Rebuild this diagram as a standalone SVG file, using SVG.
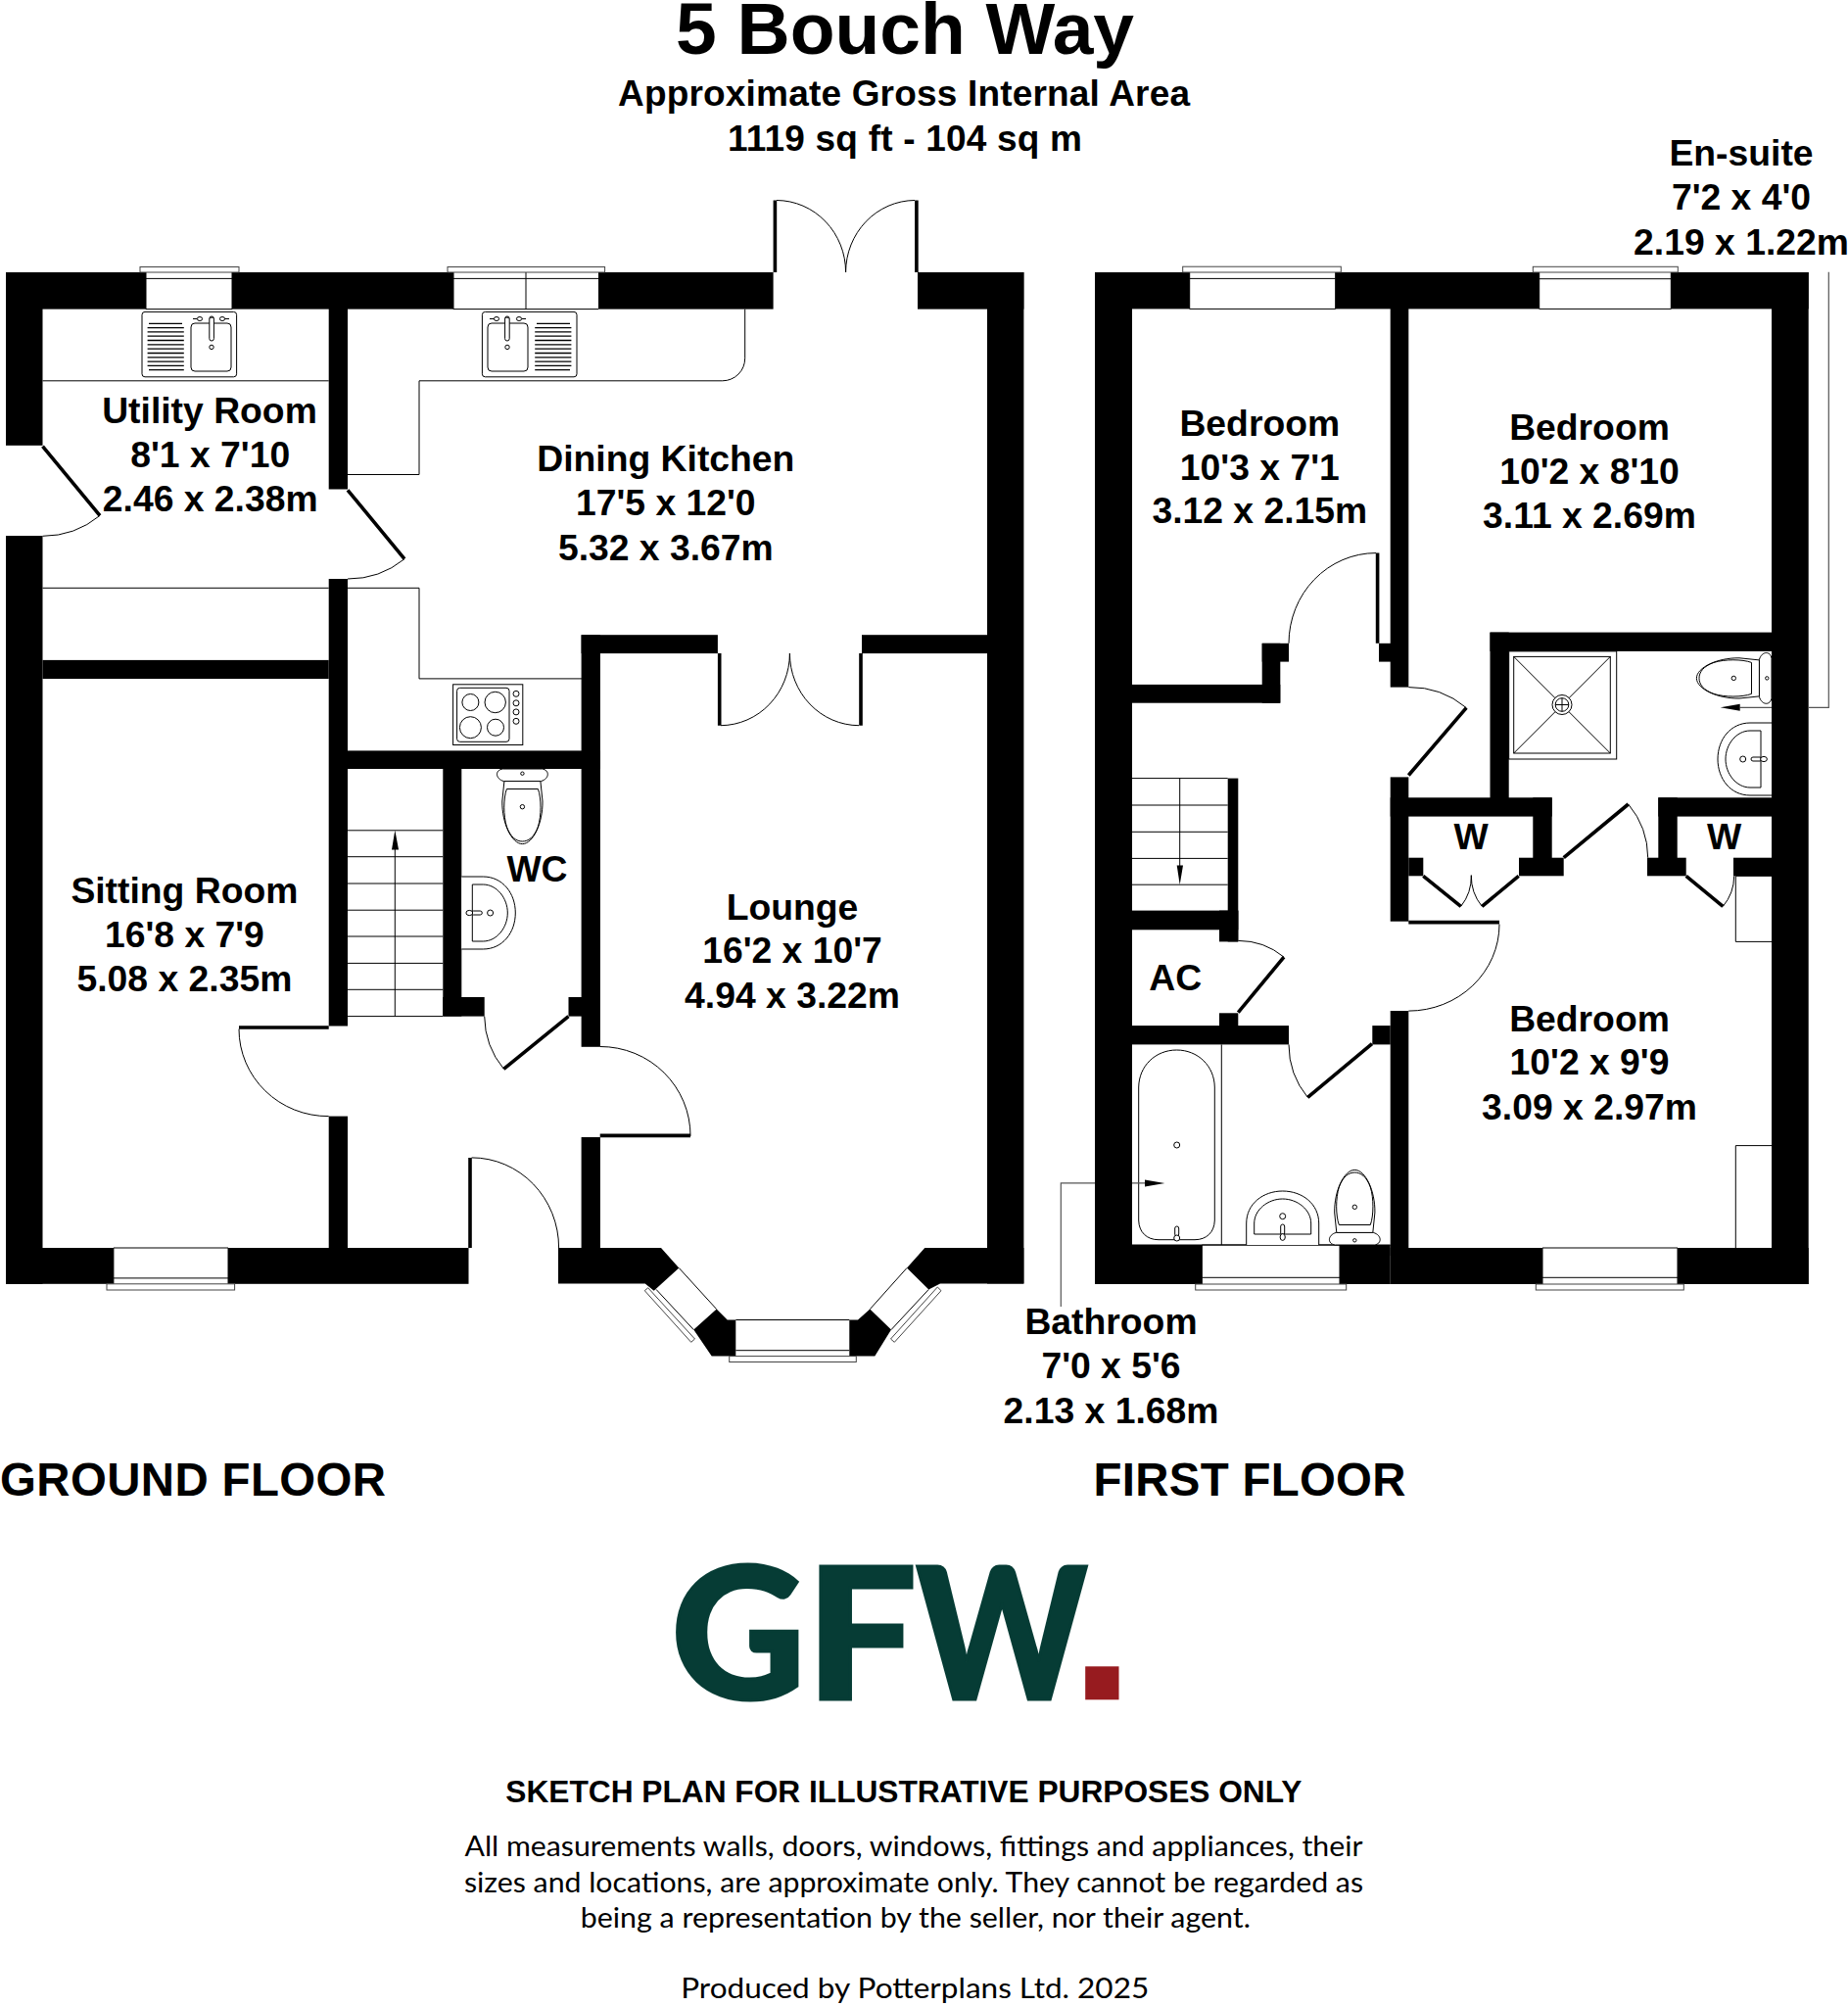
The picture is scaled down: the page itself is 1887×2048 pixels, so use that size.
<svg xmlns="http://www.w3.org/2000/svg" xmlns:xlink="http://www.w3.org/1999/xlink" width="1887" height="2048" viewBox="0 0 1887 2048">
<style>
text{font-family:"Liberation Sans",Arial,sans-serif;font-weight:700;fill:#000;text-anchor:middle}
.r{font-size:37.3px}
.w{fill:#000;stroke:none}
.t{fill:none;stroke:#000;stroke-width:1}
.f{fill:#fff;stroke:#000;stroke-width:1}
.g{fill:none;stroke:#555;stroke-width:1.2}
.wn{fill:#fff;stroke:#444;stroke-width:1}
.leaf{fill:none;stroke:#000;stroke-width:3.6}
.foot{font-family:Lato,"Open Sans",sans-serif;font-weight:400;font-size:29.5px}
.logo{font-family:Lato,"Liberation Sans",sans-serif;font-weight:900;font-size:186px;fill:#063c35;stroke:#063c35;stroke-width:3}
</style>
<defs>
<g id="sink">
<rect class="t" x="145" y="318.4" width="96.6" height="66.4" rx="3"/>
<rect class="t" x="195" y="330" width="41" height="49" rx="4"/>
<path d="M152 330.3H186M150.6 334.6H187.8M150.6 338.9H187.8M150.6 343.2H187.8M150.6 347.5H187.8M150.6 351.9H187.8M150.6 356.2H187.8M150.6 360.5H187.8M150.6 364.8H187.8M150.6 369.1H187.8M150.6 373.4H187.8M152 377.7H187.8" fill="none" stroke="#000" stroke-width="1.3"/>
<rect class="f" x="213.8" y="323" width="4.6" height="25" rx="2.3" stroke-width="1.3"/>
<path d="M214 325.5a2.4 2.4 0 0 1 4.4 0" class="t"/>
<circle class="t" cx="216" cy="354.4" r="2.2"/>
<ellipse class="f" cx="204" cy="325.5" rx="2.6" ry="2"/><path class="t" d="M197 325.5H201"/>
<ellipse class="f" cx="227" cy="325.5" rx="2.6" ry="2"/><path class="t" d="M229.6 325.5H234"/>
</g>
<g id="toilet">
<path class="f" d="M-20 0C-28 1-28 10-19 12.6H19C28 10 28 1 20 0Z"/>
<circle class="t" cy="4.7" r="1.7"/>
<path class="f" d="M-18.5 12.6L-20.6 33C-21 55-11 76.6 0 76.6C11 76.6 21 55 20.6 33L18.5 12.6Z"/>
<path class="t" d="M-16 20.5H16C19.5 30 19.5 48 16 59C12 70 6 74 0 74C-6 74-12 70-16 59C-19.5 48-19.5 30-16 20.5Z"/>
<circle class="t" cy="38.7" r="2.2"/>
</g>
<g id="basin">
<path class="f" d="M0-37H22C42-37 55-20 55 0C55 20 42 37 22 37H0"/>
<path class="t" d="M11-29H22C36-29 47-15 47 0C47 15 36 29 22 29H11Z"/>
<circle class="t" cx="29.3" r="3"/>
<rect class="t" x="10" y="-2" width="11" height="4" rx="2"/>
<ellipse class="f" cx="8" rx="3.4" ry="2.6"/>
</g>
</defs>
<rect width="1887" height="2048" fill="#fff"/>

<g id="header">
<text x="924" y="55" font-size="75">5 Bouch Way</text>
<text x="923" y="108.3" font-size="37" textLength="584">Approximate Gross Internal Area</text>
<text x="924" y="154.3" font-size="37" textLength="362">1119 sq ft - 104 sq m</text>
</g>

<g id="ground-floor">
<g id="ground-walls" class="w">
<rect x="6" y="278" width="143" height="37.6"/>
<rect x="237" y="278" width="226" height="37.6"/>
<rect x="611" y="278" width="178.6" height="37.6"/>
<rect x="937" y="278" width="108.4" height="37.6"/>
<rect x="1008" y="278" width="37.4" height="1032.5"/>
<rect x="6" y="278" width="37.5" height="176.8"/>
<rect x="6" y="547" width="37.5" height="763.8"/>
<rect x="6" y="1274" width="109.9" height="36.8"/>
<rect x="233" y="1274" width="245.5" height="36.8"/>
<rect x="335.7" y="278" width="19.3" height="221.5"/>
<rect x="335.7" y="591" width="19.3" height="456.5"/>
<rect x="335.7" y="1139.6" width="19.3" height="170"/>
<rect x="43.5" y="673.9" width="292.2" height="19.1"/>
<rect x="355" y="766.4" width="257.9" height="18.6"/>
<rect x="452.3" y="785" width="19" height="252.6"/>
<rect x="452.3" y="1018" width="42.4" height="19.6"/>
<rect x="580.5" y="1018" width="13.5" height="19.6"/>
<rect x="593.6" y="648.2" width="19.3" height="420.6"/>
<rect x="593.6" y="1161" width="19.3" height="130"/>
<rect x="593.6" y="648.2" width="139.3" height="18.9"/>
<rect x="880" y="648.2" width="128" height="18.9"/>
<polygon points="570,1274 675,1274 693.3,1294.5 667.7,1317.7 658.7,1310.5 570,1310.5"/>
<polygon points="731.7,1336.6 742.7,1347.6 751.3,1347.6 751.3,1384.6 726.7,1384.6 708.3,1357.6"/>
<polygon points="867.3,1347.6 876,1347.6 888.3,1336.6 910,1357.6 893.3,1384.6 867.3,1384.6"/>
<polygon points="926,1294.5 944.3,1274 1008,1274 1045.4,1274 1045.4,1310.5 960,1310.5 948.3,1316.4"/>
</g>
<g id="ground-windows">
<path class="t" d="M149 315.6H237M149 278V315.6M237 278V315.6M149 284.4H237M463 315.6H611M463 284.4H611M537 278V315.6M463 278V315.6"/>
<rect class="wn" x="143" y="272.5" width="101" height="5.5"/>
<rect class="wn" x="457" y="272.5" width="160.6" height="5.5"/>
<path class="t" d="M115.9 1274H233M115.9 1304.9H233M115.9 1274V1310.8M233 1274V1310.8"/>
<rect class="wn" x="109" y="1310.8" width="130.6" height="6.2"/>
<path class="t" d="M751.3 1347.5H867.3M751.3 1378.7H867.3"/>
<rect class="wn" x="744.7" y="1384.6" width="129.6" height="5.9"/>
<path class="t" d="M693.3 1294.5L731.7 1336.6M670 1316.4L708.3 1357.6M926 1294.5L888.3 1336.6M948.3 1316.4L910 1357.6"/>
<polygon class="wn" points="661.7,1314.8 658.3,1317.7 705.7,1370.3 709.5,1367"/>
<polygon class="wn" points="957.3,1314 961,1317.7 913.3,1370.3 909.5,1367"/>
</g>
<g id="ground-fittings">
<path class="t" d="M43.5 388.8H335.7M43.5 600.3H335.7"/>
<path class="t" d="M355 484.5H428V388.8H737.7C750.4 388.8 760.7 378.5 760.7 365.8V315.6"/>
<path class="t" d="M355 600.3H428V692.9H594"/>
<use href="#sink" xlink:href="#sink"/>
<use href="#sink" xlink:href="#sink" transform="translate(734,0) scale(-1,1)"/>
<rect class="t" x="462.6" y="698.8" width="71.2" height="61.7"/>
<rect class="t" x="466.6" y="702.3" width="53.4" height="55" rx="3"/>
<circle class="t" cx="480.4" cy="717" r="8.5"/><circle class="t" cx="505.7" cy="717" r="10.7"/>
<circle class="t" cx="480.4" cy="742.7" r="11"/><circle class="t" cx="506" cy="742.7" r="8.5"/>
<circle class="t" cx="527" cy="708.3" r="3"/><circle class="t" cx="527" cy="717.8" r="3"/><circle class="t" cx="527" cy="726.9" r="3"/><circle class="t" cx="527" cy="736.3" r="3"/>
<use href="#toilet" xlink:href="#toilet" transform="translate(533.4,785)"/>
<use href="#basin" xlink:href="#basin" transform="translate(471.3,932)"/>
<path class="t" d="M355 847.8H452.3M355 874.7H452.3M355 902H452.3M355 929.2H452.3M355 956H452.3M355 983.4H452.3M355 1010.3H452.3M355 1037.6H452.3M403.3 1037.6V867"/>
<polygon points="403.3,847.8 400,867.6 407,867.6"/>
</g>
<g id="ground-doors">
<path class="leaf" d="M43.5 455.6L102 526.4M355 500.3L413 570.7M791.4 204.5V278M935.9 204.5V278M734.7 667V740.7M879 667V740.7M244 1049H335.7M580.5 1037.6L514.4 1091.4M612.7 1159.4H705M480 1181.9V1274"/>
<path class="t" d="M102 526.4A92 92 0 0 1 43.5 547.3M413 570.7A91 91 0 0 1 355 591M793 204.5A71 73.5 0 0 1 863.6 278M934 204.5A71 73.5 0 0 0 863.6 278M736 740.7A71 73.7 0 0 0 806.4 667M877 740.7A71 73.7 0 0 1 806.4 667M244 1050.6A91 89 0 0 0 335.7 1139.6M514.4 1091.4A86 86 0 0 1 494.7 1037.6M612.7 1068.5A92 91 0 0 1 705 1159.8M481.6 1181.9A89 92 0 0 1 570.6 1274"/>
</g>
</g>

<g id="first-floor">
<g id="first-walls" class="w">
<rect x="1118" y="278" width="96.7" height="37.4"/>
<rect x="1363.7" y="278" width="208" height="37.4"/>
<rect x="1706.3" y="278" width="140.4" height="37.4"/>
<rect x="1809" y="278" width="37.7" height="1033"/>
<rect x="1118" y="278" width="38" height="1033"/>
<rect x="1118" y="1271" width="109.3" height="40"/>
<rect x="1368" y="1271" width="51.7" height="40"/>
<rect x="1419.7" y="1274" width="155.3" height="37"/>
<rect x="1713" y="1274" width="133.7" height="37"/>
<rect x="1419.7" y="278" width="18.6" height="423.6"/>
<rect x="1408" y="656.8" width="12" height="18.8"/>
<rect x="1288.7" y="656.8" width="27.3" height="18.8"/>
<rect x="1288.7" y="656.8" width="18.6" height="60.9"/>
<rect x="1156" y="698.9" width="151.3" height="18.8"/>
<rect x="1419.7" y="793.4" width="18.6" height="147.3"/>
<rect x="1419.7" y="1032" width="18.6" height="250"/>
<rect x="1419.7" y="814.3" width="165" height="19.3"/>
<rect x="1521.5" y="645.6" width="19.2" height="170"/>
<rect x="1521.5" y="645.6" width="287.5" height="19.3"/>
<rect x="1565.3" y="814.3" width="19.4" height="65"/>
<rect x="1551" y="875.7" width="45.7" height="18.6"/>
<rect x="1438.3" y="875.7" width="15" height="18.6"/>
<rect x="1693.3" y="814.3" width="115.7" height="19.3"/>
<rect x="1693.3" y="814.3" width="19.4" height="65"/>
<rect x="1682" y="875.7" width="39.7" height="18.6"/>
<rect x="1770" y="875.7" width="39" height="18.6"/>
<rect x="1253.7" y="794.6" width="10.6" height="166.8"/>
<rect x="1156" y="929.6" width="108.3" height="19.7"/>
<rect x="1245" y="929.6" width="19.3" height="31.8"/>
<rect x="1245" y="1034.3" width="19.3" height="14"/>
<rect x="1156" y="1047.1" width="160" height="19.3"/>
<rect x="1401.3" y="1047.1" width="18.4" height="19.3"/>
</g>
<g id="first-windows">
<path class="t" d="M1214.7 315.4H1363.7M1214.7 284.4H1363.7M1214.7 278V315.4M1363.7 278V315.4M1571.7 315.4H1706.3M1571.7 284.7H1706.3M1571.7 278V315.4M1706.3 278V315.4"/>
<rect class="wn" x="1207.7" y="272.2" width="161.6" height="5.8"/>
<rect class="wn" x="1565.3" y="272.3" width="148" height="5.7"/>
<path class="t" d="M1227.3 1271H1368M1227.3 1304.3H1368M1227.3 1271V1311M1368 1271V1311M1575 1274H1713M1575 1304.3H1713M1575 1274V1311M1713 1274V1311"/>
<rect class="wn" x="1220.7" y="1311" width="154" height="6"/>
<rect class="wn" x="1568.3" y="1311" width="151" height="6"/>
</g>
<g id="first-fittings">
<path class="t" d="M1156 794.6H1253.7M1156 822H1253.7M1156 849.3H1253.7M1156 876.4H1253.7M1156 903.2H1253.7M1204.7 794.6V885"/>
<polygon points="1204.7,903.2 1201.7,883.6 1208,883.6"/>
<path class="t" d="M1247.3 1066.4V1271M1156 1271H1419.7"/>
<path class="t" d="M1162.7 1110C1163 1088 1180 1072 1201.5 1072C1223 1072 1240 1088 1240.3 1110V1246C1240 1258 1232 1265.7 1220 1265.7H1183C1171 1265.7 1163 1258 1162.7 1246Z"/>
<circle class="t" cx="1201.7" cy="1169" r="3"/>
<rect class="f" x="1199.7" y="1252" width="4" height="10" rx="2"/>
<circle class="f" cx="1201.7" cy="1264" r="3"/>
<use href="#basin" xlink:href="#basin" transform="translate(1309.7,1271) rotate(-90)"/>
<use href="#toilet" xlink:href="#toilet" transform="translate(1383.3,1271) rotate(180)"/>
<rect class="t" x="1540.7" y="664.9" width="110" height="110.1"/>
<rect class="t" x="1545.7" y="670.4" width="98.6" height="98.6"/>
<path class="t" d="M1545.7 670.4L1644.3 769M1644.3 670.4L1545.7 769"/>
<circle class="f" cx="1595" cy="719.5" r="10"/>
<circle class="t" cx="1595" cy="719.5" r="6.8"/>
<path class="t" d="M1588.2 719.5H1601.8M1595 712.7V726.3"/>
<use href="#toilet" xlink:href="#toilet" transform="translate(1809,692.4) rotate(90)"/>
<use href="#basin" xlink:href="#basin" transform="translate(1809,775) rotate(180)"/>
<path class="t" d="M1809 894.3H1772.3V961.4H1809M1809 1169.6H1772.3V1274"/>
</g>
<g id="first-doors">
<path class="leaf" d="M1406.6 564.6V656.8M1438.3 791.5L1497.3 722.6M1264.3 1033.6L1311 977.1M1401 1065.7L1335.3 1120.4M1438.3 941.6H1531M1453.3 894.3L1491.7 925.4M1550.7 894.3L1513.3 925.4M1596.7 875.7L1662.7 821M1721.7 894.3L1759.3 925.4"/>
<path class="t" d="M1405 564.6A89 92.2 0 0 0 1316 656.8M1438.3 701.6A90 90 0 0 1 1497.3 722.6M1264.3 960.4A73 73 0 0 1 1311 977.1M1316 1066.4A85 85 0 0 0 1335.3 1120.4M1531 943.6A92.7 88.5 0 0 1 1438.3 1032.1M1491.7 925.4A49 49 0 0 0 1502.3 893.6M1513.3 925.4A49 49 0 0 1 1502.3 893.6M1662.7 821A86 86 0 0 1 1682.7 875.7M1759.3 925.4A49 49 0 0 0 1770.7 894.3"/>
</g>
<g id="leaders">
<path class="g" d="M1867.3 277.8V722.3H1846.7M1809 722.3H1776.7"/>
<polygon points="1756.7,722.3 1776.7,718.8 1776.7,725.8"/>
<path class="g" d="M1083.3 1334V1207.9H1118M1156 1207.9H1169"/>
<polygon points="1189.3,1207.9 1169,1204.5 1169,1211.5"/>
</g>
</g>

<g id="room-labels">
<text class="r" x="214" y="431.9">Utility Room</text><text class="r" x="214.7" y="477.4">8'1 x 7'10</text><text class="r" x="214.7" y="522">2.46 x 2.38m</text>
<text class="r" x="679.8" y="481.3">Dining Kitchen</text><text class="r" x="679.8" y="526">17'5 x 12'0</text><text class="r" x="679.8" y="571.5">5.32 x 3.67m</text>
<text class="r" x="188.4" y="921.7">Sitting Room</text><text class="r" x="188.4" y="967.2">16'8 x 7'9</text><text class="r" x="188.4" y="1011.9">5.08 x 2.35m</text>
<text class="r" x="548.5" y="899.5">WC</text>
<text class="r" x="809" y="938.9">Lounge</text><text class="r" x="809" y="983">16'2 x 10'7</text><text class="r" x="809" y="1028.5">4.94 x 3.22m</text>
<text class="r" x="1286.3" y="445.2">Bedroom</text><text class="r" x="1286.3" y="489.6">10'3 x 7'1</text><text class="r" x="1286.3" y="534.3">3.12 x 2.15m</text>
<text class="r" x="1623" y="449">Bedroom</text><text class="r" x="1623" y="494">10'2 x 8'10</text><text class="r" x="1623" y="538.6">3.11 x 2.69m</text>
<text class="r" x="1778" y="169">En-suite</text><text class="r" x="1778" y="214">7'2 x 4'0</text><text class="r" x="1778" y="259.5">2.19 x 1.22m</text>
<text class="r" x="1623" y="1053.2">Bedroom</text><text class="r" x="1623" y="1097">10'2 x 9'9</text><text class="r" x="1623" y="1142.5">3.09 x 2.97m</text>
<text class="r" x="1200.3" y="1011.4">AC</text>
<text class="r" x="1502" y="867">W</text><text class="r" x="1760.7" y="867">W</text>
<text class="r" x="1134.5" y="1361.7">Bathroom</text><text class="r" x="1134.5" y="1406.7">7'0 x 5'6</text><text class="r" x="1134.5" y="1452.7">2.13 x 1.68m</text>
<text x="197" y="1527.3" font-size="47.4" textLength="394">GROUND FLOOR</text>
<text x="1276" y="1527.3" font-size="47.4" textLength="319">FIRST FLOOR</text>
</g>

<g id="logo">
<text class="logo" transform="translate(754,1734.5) scale(1.02,1)">G</text>
<text class="logo" transform="translate(879.5,1734.5) scale(1.08,1)">F</text>
<text class="logo" transform="translate(1023,1734.5) scale(.89,1)">W</text>
<rect x="1108.2" y="1701.3" width="34.3" height="34" fill="#971b1f"/>
</g>

<g id="footer">
<text x="922.8" y="1840" font-size="32" textLength="813" lengthAdjust="spacingAndGlyphs">SKETCH PLAN FOR ILLUSTRATIVE PURPOSES ONLY</text>
<text class="foot" x="933" y="1895" textLength="917" lengthAdjust="spacingAndGlyphs">All measurements walls, doors, windows, fittings and appliances, their</text>
<text class="foot" x="933" y="1931.7" textLength="918" lengthAdjust="spacingAndGlyphs">sizes and locations, are approximate only. They cannot be regarded as</text>
<text class="foot" x="934.8" y="1968" textLength="684" lengthAdjust="spacingAndGlyphs">being a representation by the seller, nor their agent.</text>
<text class="foot" x="934.2" y="2040" textLength="478" lengthAdjust="spacingAndGlyphs">Produced by Potterplans Ltd. 2025</text>
</g>
</svg>
